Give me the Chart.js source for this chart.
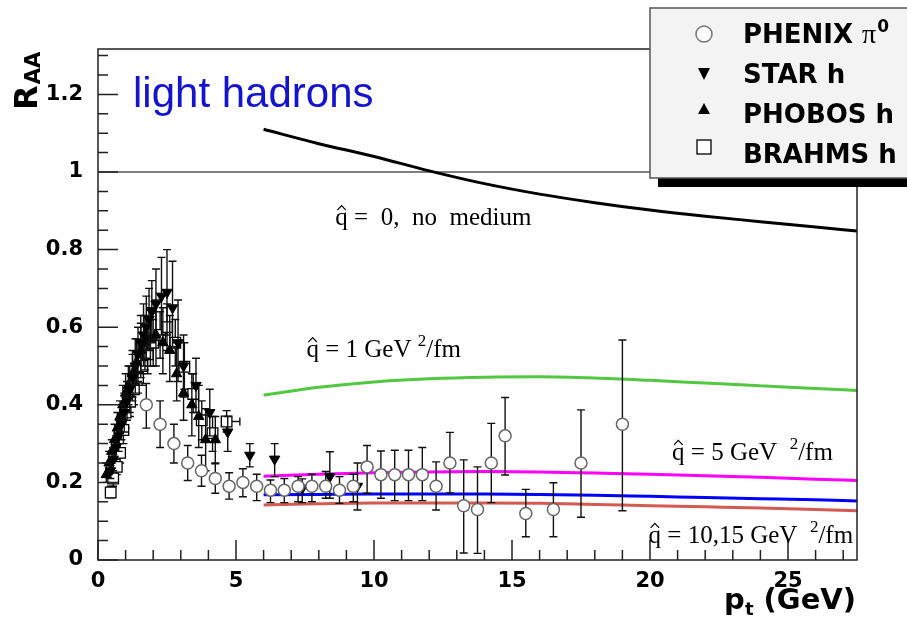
<!DOCTYPE html>
<html>
<head>
<meta charset="utf-8">
<script src="https://cdn.jsdelivr.net/npm/chart.js@4.4.1/dist/chart.umd.min.js"></script>
<style>
  html, body { margin: 0; padding: 0; background: #fff; }
  #wrap { width: 907px; height: 623px; }
</style>
</head>
<body>
<div id="wrap"><canvas id="raaChart"></canvas></div>
<script>
// ---- data ----
const xTickVals = [0, 5, 10, 15, 20, 25];
const yTickVals = [0, 0.2, 0.4, 0.6, 0.8, 1, 1.2];
const yTickLabels = ["0", "0.2", "0.4", "0.6", "0.8", "1", "1.2"];

// theory curves (p_t, R_AA)
const curvePt = [6, 8, 10, 12, 14, 16, 18, 20, 22, 24, 26, 27.5];
const noMedium = [1.11, 1.073, 1.04, 1.003, 0.97, 0.943, 0.921, 0.902, 0.886, 0.872, 0.858, 0.848];
const qhat1 = [0.425, 0.445, 0.459, 0.467, 0.471, 0.472, 0.469, 0.463, 0.456, 0.449, 0.442, 0.437];
const qhat5 = [0.216, 0.221, 0.225, 0.227, 0.228, 0.227, 0.224, 0.221, 0.217, 0.213, 0.208, 0.205];
const qhat10 = [0.168, 0.169, 0.17, 0.17, 0.17, 0.169, 0.167, 0.164, 0.161, 0.158, 0.155, 0.152];
const qhat15 = [0.142, 0.145, 0.147, 0.147, 0.147, 0.146, 0.143, 0.14, 0.137, 0.134, 0.13, 0.127];

// PHENIX pi0
const phenixPt = [1.75, 2.25, 2.75, 3.25, 3.75, 4.25, 4.75, 5.25, 5.75, 6.25, 6.75, 7.25, 7.75, 8.25, 8.75, 9.25,
  9.75, 10.25, 10.75, 11.25, 11.75, 12.25, 12.75, 13.25, 13.75, 14.25, 14.75, 15.5, 16.5, 17.5, 19.0];
const phenixR = [0.40, 0.35, 0.30, 0.25, 0.23, 0.21, 0.19, 0.20, 0.19, 0.18, 0.18, 0.19, 0.19, 0.19, 0.18, 0.19,
  0.24, 0.22, 0.22, 0.22, 0.22, 0.19, 0.25, 0.14, 0.13, 0.25, 0.32, 0.12, 0.13, 0.25, 0.35];
const phenixLo = [0.34, 0.29, 0.25, 0.205, 0.19, 0.172, 0.157, 0.163, 0.153, 0.148, 0.148, 0.15, 0.15, 0.159, 0.146, 0.15,
  0.172, 0.159, 0.153, 0.153, 0.153, 0.129, 0.173, 0.018, 0.017, 0.148, 0.219, 0.06, 0.06, 0.11, 0.127];
const phenixHi = [0.455, 0.41, 0.35, 0.295, 0.27, 0.248, 0.225, 0.235, 0.221, 0.206, 0.21, 0.215, 0.221, 0.228, 0.215, 0.221,
  0.295, 0.281, 0.283, 0.283, 0.29, 0.253, 0.329, 0.258, 0.24, 0.352, 0.419, 0.182, 0.199, 0.387, 0.567];

// STAR h
const starPt = [0.45, 0.55, 0.65, 0.75, 0.85, 0.95, 1.05, 1.15, 1.25, 1.35, 1.45, 1.55, 1.65, 1.75, 1.85, 1.95,
  2.1, 2.3, 2.5, 2.7, 2.9, 3.1, 3.55, 4.05, 4.7, 5.5, 6.4, 7.4, 8.4, 9.4];
const starR = [0.23, 0.26, 0.29, 0.32, 0.35, 0.38, 0.41, 0.44, 0.47, 0.50, 0.53, 0.56, 0.58, 0.60, 0.62, 0.64,
  0.66, 0.68, 0.69, 0.65, 0.56, 0.50, 0.45, 0.38, 0.33, 0.27, 0.26, 0.185, 0.215, 0.19];
const starLo = [0.21, 0.23, 0.26, 0.28, 0.31, 0.33, 0.36, 0.38, 0.41, 0.43, 0.46, 0.48, 0.50, 0.52, 0.54, 0.56,
  0.57, 0.58, 0.58, 0.55, 0.46, 0.42, 0.38, 0.32, 0.28, 0.24, 0.215, 0.148, 0.159, 0.129];
const starHi = [0.25, 0.29, 0.32, 0.36, 0.40, 0.43, 0.46, 0.50, 0.53, 0.57, 0.60, 0.63, 0.66, 0.68, 0.70, 0.72,
  0.75, 0.78, 0.80, 0.77, 0.67, 0.58, 0.52, 0.44, 0.37, 0.30, 0.30, 0.209, 0.279, 0.25];

// PHOBOS h
const phobosPt = [0.3, 0.4, 0.5, 0.6, 0.7, 0.8, 0.9, 1.0, 1.1, 1.25, 1.4, 1.55, 1.7, 1.9, 2.1, 2.35, 2.6, 2.85,
  3.1, 3.4, 3.65, 3.9, 4.25];
const phobosR = [0.22, 0.25, 0.28, 0.31, 0.34, 0.37, 0.40, 0.43, 0.45, 0.48, 0.51, 0.54, 0.56, 0.57, 0.58, 0.56, 0.54, 0.48,
  0.43, 0.40, 0.37, 0.31, 0.31];
const phobosLo = [0.20, 0.22, 0.25, 0.28, 0.30, 0.33, 0.35, 0.38, 0.40, 0.42, 0.45, 0.47, 0.49, 0.50, 0.50, 0.48, 0.46, 0.41,
  0.36, 0.32, 0.29, 0.23, 0.25];
const phobosHi = [0.25, 0.28, 0.31, 0.35, 0.38, 0.41, 0.45, 0.48, 0.50, 0.54, 0.57, 0.61, 0.63, 0.65, 0.67, 0.65, 0.63, 0.56,
  0.51, 0.48, 0.45, 0.39, 0.37];

// BRAHMS h
const brahmsPt = [0.46, 0.55, 0.68, 0.8, 0.92, 1.0, 1.16, 1.3, 1.45, 1.6, 1.8, 2.0, 2.25, 2.5, 2.8, 3.13, 3.45, 3.76, 4.15, 4.66];
const brahmsR = [0.174, 0.21, 0.24, 0.276, 0.335, 0.38, 0.408, 0.44, 0.47, 0.50, 0.53, 0.56, 0.58, 0.60, 0.56, 0.498, 0.428, 0.36, 0.327, 0.357];
const brahmsLo = [0.16, 0.19, 0.22, 0.25, 0.30, 0.34, 0.37, 0.40, 0.43, 0.45, 0.48, 0.50, 0.52, 0.54, 0.50, 0.44, 0.38, 0.31, 0.28, 0.33];
const brahmsHi = [0.19, 0.23, 0.26, 0.30, 0.37, 0.42, 0.45, 0.48, 0.51, 0.55, 0.58, 0.62, 0.64, 0.66, 0.62, 0.56, 0.48, 0.41, 0.37, 0.385];
const brahmsPtLo = [null, null, null, null, null, null, null, null, null, null, null, null, null, null, null, null, null, null, null, 4.48];
const brahmsPtHi = [null, null, null, null, null, null, null, null, null, null, null, null, null, null, null, null, null, null, null, 5.14];

const toPoints = (xs, ys) => xs.map((x, i) => ({ x: x, y: ys[i] }));

// ---- plugins ----
const errorBars = {
  id: 'errorBars',
  beforeDatasetDraw(chart, args) {
    const ds = chart.data.datasets[args.index];
    if (!ds.errLo) return;
    const ctx = chart.ctx, xs = chart.scales.x, ys = chart.scales.y;
    ctx.save();
    ctx.strokeStyle = '#111';
    ctx.lineWidth = 1.4;
    ds.data.forEach((p, i) => {
      const px = xs.getPixelForValue(p.x);
      const top = ys.getPixelForValue(ds.errHi[i]);
      const bot = ys.getPixelForValue(ds.errLo[i]);
      ctx.beginPath();
      ctx.moveTo(px, top); ctx.lineTo(px, bot);
      ctx.moveTo(px - 4, top); ctx.lineTo(px + 4, top);
      ctx.moveTo(px - 4, bot); ctx.lineTo(px + 4, bot);
      if (ds.ptLo && ds.ptLo[i] !== null) {
        const py = ys.getPixelForValue(p.y);
        const l = xs.getPixelForValue(ds.ptLo[i]), r = xs.getPixelForValue(ds.ptHi[i]);
        ctx.moveTo(l, py); ctx.lineTo(r, py);
        ctx.moveTo(l, py - 4); ctx.lineTo(l, py + 4);
        ctx.moveTo(r, py - 4); ctx.lineTo(r, py + 4);
      }
      ctx.stroke();
    });
    ctx.restore();
  }
};

const refLine = {
  id: 'refLine',
  beforeDatasetsDraw(chart) {
    const { ctx, chartArea: a, scales: { y } } = chart;
    const py = y.getPixelForValue(1);
    ctx.save();
    ctx.strokeStyle = '#000';
    ctx.lineWidth = 1.2;
    ctx.beginPath();
    ctx.moveTo(a.left, py); ctx.lineTo(a.right, py);
    ctx.stroke();
    ctx.restore();
  }
};

const frame = {
  id: 'frame',
  afterDatasetsDraw(chart) {
    const { ctx, chartArea: a, scales: { x, y } } = chart;
    ctx.save();
    ctx.strokeStyle = '#222';
    ctx.lineWidth = 1.5;
    ctx.strokeRect(a.left, a.top, a.right - a.left, a.bottom - a.top);
    ctx.beginPath();
    for (let v = 0; v <= 27; v++) {
      const px = x.getPixelForValue(v);
      ctx.moveTo(px, a.bottom);
      ctx.lineTo(px, a.bottom - (v % 5 === 0 ? 20 : 10));
    }
    for (let k = 0; k <= 26; k++) {
      const py = y.getPixelForValue(k * 0.05);
      ctx.moveTo(a.left, py);
      ctx.lineTo(a.left + (k % 4 === 0 ? 20 : 10), py);
    }
    ctx.stroke();
    ctx.restore();
  }
};

// q-hat label: "q" with a small hat drawn above it, then the rest in Times
function qhatLabel(ctx, x, y, rest, sup, tail) {
  const f = '25px "Liberation Serif"';
  ctx.font = f;
  ctx.fillText('q', x, y);
  const qw = ctx.measureText('q').width;
  ctx.save();
  ctx.lineWidth = 1.2;
  ctx.strokeStyle = '#000';
  ctx.beginPath();
  ctx.moveTo(x + 2, y - 15);
  ctx.lineTo(x + qw / 2, y - 19.5);
  ctx.lineTo(x + qw - 2, y - 15);
  ctx.stroke();
  ctx.restore();
  let cx = x + qw;
  ctx.fillText(rest, cx, y);
  cx += ctx.measureText(rest).width;
  if (sup) {
    ctx.font = '17px "Liberation Serif"';
    ctx.fillText(sup, cx, y - 11);
    cx += ctx.measureText(sup).width;
    ctx.font = f;
    ctx.fillText(tail, cx, y);
  }
}

const texts = {
  id: 'texts',
  afterDraw(chart) {
    const { ctx, scales: { x, y } } = chart;
    ctx.save();
    ctx.fillStyle = '#000';
    ctx.textBaseline = 'alphabetic';
    ctx.textAlign = 'left';

    // curve annotations
    qhatLabel(ctx, x.getPixelForValue(8.6), y.getPixelForValue(0.863), ' =  0,  no  medium');
    qhatLabel(ctx, x.getPixelForValue(7.55), y.getPixelForValue(0.523), ' = 1 GeV ', '2', '/fm');
    qhatLabel(ctx, x.getPixelForValue(20.8), y.getPixelForValue(0.258), ' = 5 GeV  ', '2', '/fm');
    qhatLabel(ctx, x.getPixelForValue(19.95), y.getPixelForValue(0.044), ' = 10,15 GeV  ', '2', '/fm');

    // panel title
    ctx.fillStyle = '#1414cc';
    ctx.font = '42px "Liberation Sans"';
    ctx.fillText('light hadrons', 133, 107);

    // x title
    ctx.fillStyle = '#000';
    ctx.textAlign = 'right';
    const tail = ' (GeV)';
    ctx.font = 'bold 29px "DejaVu Sans"';
    const tailW = ctx.measureText(tail).width;
    ctx.fillText(tail, 856, 609);
    ctx.font = 'bold 18px "DejaVu Sans"';
    const tW = ctx.measureText('t').width;
    ctx.fillText('t', 856 - tailW, 615);
    ctx.font = 'bold 29px "DejaVu Sans"';
    ctx.fillText('p', 856 - tailW - tW, 609);

    // y title (rotated)
    ctx.save();
    ctx.translate(37, 110);
    ctx.rotate(-Math.PI / 2);
    ctx.textAlign = 'left';
    ctx.font = 'bold 32px "DejaVu Sans"';
    ctx.fillText('R', 0, 0);
    const rW = ctx.measureText('R').width;
    ctx.font = 'bold 21px "DejaVu Sans"';
    ctx.fillText('AA', rW + 1, 3);
    ctx.restore();

    // legend box
    const bx = 650, by = 8, bw = 270, bh = 170;
    ctx.fillStyle = '#000';
    ctx.fillRect(bx + 8, by + 9, bw, bh);
    ctx.fillStyle = '#f3f3f3';
    ctx.fillRect(bx, by, bw, bh);
    ctx.strokeStyle = '#555';
    ctx.lineWidth = 1.5;
    ctx.strokeRect(bx, by, bw, bh);

    const mx = 704;
    // circle
    ctx.beginPath();
    ctx.arc(mx, 34, 8, 0, Math.PI * 2);
    ctx.fillStyle = '#fff';
    ctx.fill();
    ctx.strokeStyle = '#777';
    ctx.lineWidth = 1.5;
    ctx.stroke();
    // down triangle
    ctx.fillStyle = '#000';
    ctx.beginPath();
    ctx.moveTo(mx - 6, 68); ctx.lineTo(mx + 6, 68); ctx.lineTo(mx, 80); ctx.closePath(); ctx.fill();
    // up triangle
    ctx.beginPath();
    ctx.moveTo(mx - 6, 114); ctx.lineTo(mx + 6, 114); ctx.lineTo(mx, 103); ctx.closePath(); ctx.fill();
    // square
    ctx.fillStyle = '#fff';
    ctx.fillRect(mx - 7, 140, 14, 14);
    ctx.strokeStyle = '#000';
    ctx.lineWidth = 1.3;
    ctx.strokeRect(mx - 7, 140, 14, 14);

    ctx.fillStyle = '#000';
    ctx.textAlign = 'left';
    ctx.font = 'bold 26px "DejaVu Sans"';
    ctx.fillText('PHENIX ', 743, 43);
    const pw = ctx.measureText('PHENIX ').width;
    ctx.font = '28px "Liberation Serif"';
    ctx.fillText('\u03C0', 743 + pw, 43);
    const piW = ctx.measureText('\u03C0').width;
    ctx.font = 'bold 17px "DejaVu Sans"';
    ctx.fillText('0', 743 + pw + piW + 1, 32);
    ctx.font = 'bold 26px "DejaVu Sans"';
    ctx.fillText('STAR h', 743, 83);
    ctx.fillText('PHOBOS h', 743, 123);
    ctx.fillText('BRAHMS h', 743, 163);
    ctx.restore();
  }
};

// ---- chart ----
const curveStyle = (color, data) => ({
  type: 'line',
  data: toPoints(curvePt, data),
  borderColor: color,
  borderWidth: 3,
  pointRadius: 0,
  fill: false,
  cubicInterpolationMode: 'monotone',
  order: 10
});

const ctx = document.getElementById('raaChart').getContext('2d');
const raaChart = new Chart(ctx, {
  type: 'scatter',
  data: {
    datasets: [
      curveStyle('#000000', noMedium),
      curveStyle('#52c842', qhat1),
      curveStyle('#ff00ff', qhat5),
      curveStyle('#0000ff', qhat10),
      curveStyle('#d25a50', qhat15),
      {
        label: 'BRAHMS h',
        data: toPoints(brahmsPt, brahmsR),
        errLo: brahmsLo, errHi: brahmsHi, ptLo: brahmsPtLo, ptHi: brahmsPtHi,
        pointStyle: 'rect', pointRadius: 7.5,
        backgroundColor: '#fff', borderColor: '#000', borderWidth: 1.3,
        order: 4
      },
      {
        label: 'PHOBOS h',
        data: toPoints(phobosPt, phobosR),
        errLo: phobosLo, errHi: phobosHi,
        pointStyle: 'triangle', pointRadius: 6,
        backgroundColor: '#000', borderColor: '#000', borderWidth: 1,
        order: 3
      },
      {
        label: 'STAR h',
        data: toPoints(starPt, starR),
        errLo: starLo, errHi: starHi,
        pointStyle: 'triangle', pointRotation: 180, pointRadius: 6,
        backgroundColor: '#000', borderColor: '#000', borderWidth: 1,
        order: 2
      },
      {
        label: 'PHENIX pi0',
        data: toPoints(phenixPt, phenixR),
        errLo: phenixLo, errHi: phenixHi,
        pointStyle: 'circle', pointRadius: 6,
        backgroundColor: '#fff', borderColor: '#666', borderWidth: 1.5,
        order: 1
      }
    ]
  },
  options: {
    responsive: true,
    maintainAspectRatio: false,
    animation: false,
    layout: { padding: { top: 49, right: 50, left: 0, bottom: 0 } },
    plugins: {
      legend: { display: false },
      tooltip: { enabled: false }
    },
    scales: {
      x: {
        type: 'linear',
        min: 0,
        max: 27.5,
        grid: { display: false, drawTicks: false },
        border: { display: false },
        afterBuildTicks: (scale) => { scale.ticks = xTickVals.map(v => ({ value: v })); },
        afterFit: (scale) => { scale.height = 63; },
        ticks: {
          padding: 9,
          color: '#000',
          font: { family: 'DejaVu Sans', weight: 'bold', size: 21 },
          maxRotation: 0,
          callback: (v) => String(v)
        }
      },
      y: {
        type: 'linear',
        min: 0,
        max: 1.317,
        grid: { display: false, drawTicks: false },
        border: { display: false },
        afterBuildTicks: (scale) => { scale.ticks = yTickVals.map(v => ({ value: v })); },
        afterFit: (scale) => { scale.width = 98; },
        ticks: {
          padding: 15,
          color: '#000',
          font: { family: 'DejaVu Sans', weight: 'bold', size: 21 },
          callback: (v, i) => yTickLabels[i]
        }
      }
    }
  },
  plugins: [refLine, errorBars, frame, texts]
});
</script>
</body>
</html>
